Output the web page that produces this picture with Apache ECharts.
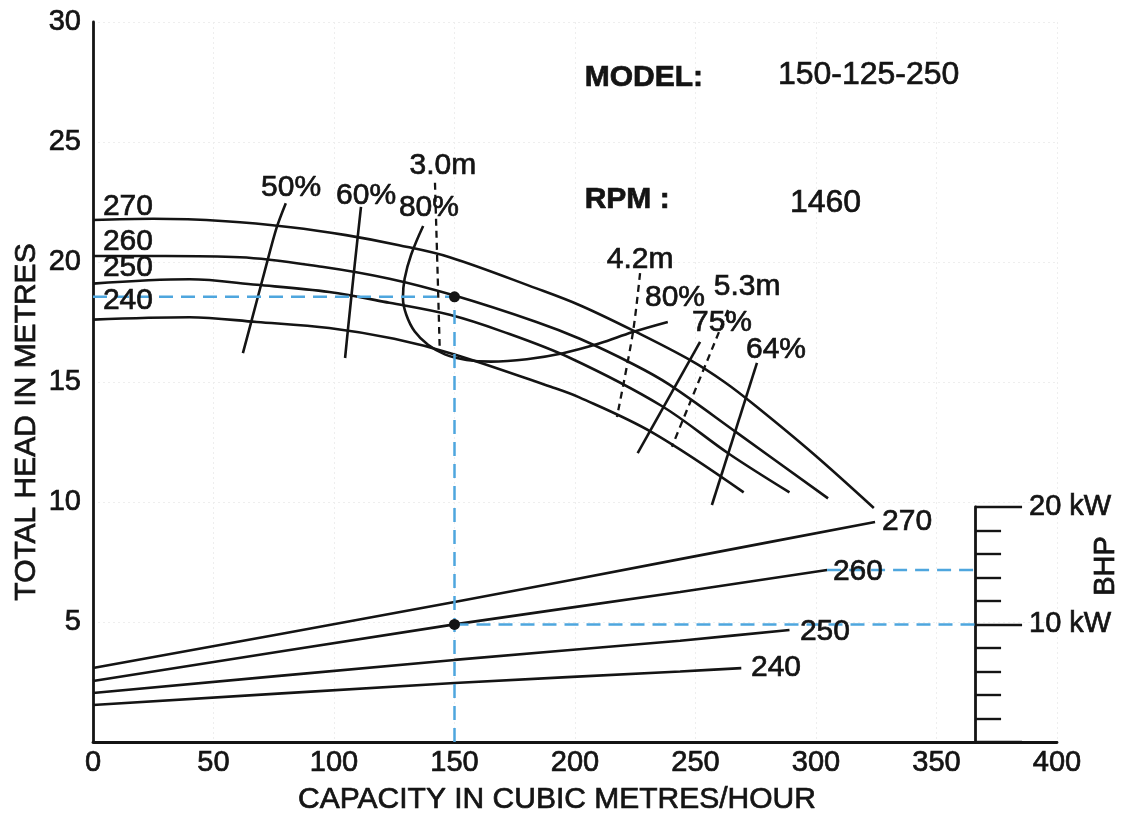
<!DOCTYPE html>
<html>
<head>
<meta charset="utf-8">
<script src="https://cdn.jsdelivr.net/npm/echarts/dist/echarts.min.js"></script>
<style>html,body{margin:0;padding:0;background:#fff}#c{width:1128px;height:815px}</style>
</head>
<body>
<div id="c"></div>
<script>
// ---------------- data (capacity m3/h, head m) ----------------
const xTicks = [0, 50, 100, 150, 200, 250, 300, 350, 400];
const yTicks = [0, 5, 10, 15, 20, 25, 30];
const bhpTicksKW = [10, 20];

// head-capacity curves per impeller diameter
const head270 = [[0,21.75],[25,21.8],[55,21.7],[82,21.45],[105,21.12],[127,20.7],[148,20.2],[184,18.9],[202,18.2],[224,17.15],[248,15.9],[262,15.0],[275,14.0],[299,12.0],[324,9.75]];
const head260 = [[0,20.25],[30,20.25],[61,20.2],[95,19.8],[123,19.3],[150,18.6],[184,17.5],[202,16.8],[224,15.75],[239,14.9],[267,12.9],[305,10.15]];
const head250 = [[0,19.1],[40,19.28],[68,19.05],[98,18.75],[123,18.3],[148,17.8],[170,17.1],[198,16.0],[236,14.0],[264,12.0],[289,10.4]];
const head240 = [[0,17.6],[40,17.7],[68,17.5],[98,17.25],[125,16.8],[150,16.15],[190,14.8],[202,14.35],[232,12.9],[270,10.4]];

// power curves (drawn on head scale; BHP axis: 20 kW = bhpTopHead)
const power270 = [[0,3.08],[150,5.83],[243.6,7.62],[324.5,9.17]];
const power260 = [[0,2.54],[150,4.9],[243.6,6.25],[304.6,7.17]];
const power250 = [[0,2.04],[150,3.42],[243.6,4.22],[289,4.67]];
const power240 = [[0,1.54],[150,2.46],[243.6,2.94],[269,3.08]];

// iso-efficiency lines
const eff50 = [[62.2,16.2],[66.7,17.9],[71.2,19.6],[76.1,21.4],[80,22.45]];
const eff60 = [[104.6,16.0],[105.8,17.2],[108.5,19.8],[111.2,22.3]];
const eff80 = [[137,21.5],[132,20.3],[129.3,19.3],[128.6,18.5],[130,17.8],[133.5,17.1],[139,16.55],[146,16.15],[155,15.92],[165,15.85],[180,15.95],[195,16.2],[210,16.6],[224,17.08],[238.5,17.5]];
const eff75 = [[226,12.04],[251.9,16.67]];
const eff64 = [[256.8,9.875],[275.5,15.8]];

// NPSH-required lines
const npsh30 = [[141.9,23.3],[143,19.5],[143.9,16.25]];
const npsh42 = [[227,19.54],[224,17.04],[217.4,13.54]];
const npsh53 = [[263.5,18.0],[240.2,12.3]];

// duty point
const dutyQ = 150, dutyHead = 18.55, dutyPower = 4.9;
const power260End = [304.6, 7.17];
const bhpAxisQ = 366;
const bhpTopHead = 9.8;   // head-scale value that corresponds to 20 kW
const bhpMaxKW = 20;

// ---------------- annotation anchors (data coords) ----------------
const notes = [
  [14.5, 22.3, '270'], [14.5, 20.83, '260'], [14.5, 19.75, '250'], [14.5, 18.4, '240'],
  [82.2, 23.1, '50%'], [113.3, 22.75, '60%'], [139.4, 22.25, '80%'], [145.2, 24.0, '3.0m'],
  [227, 20.08, '4.2m'], [271.4, 18.96, '5.3m'], [241.5, 18.5, '80%'], [261, 17.46, '75%'], [283.4, 16.33, '64%'],
  [337.8, 9.17, '270'], [317.4, 7.08, '260'], [303.7, 4.58, '250'], [283.4, 3.08, '240']
];
const infoNotes = [
  [204, 27.67, 'MODEL:', 'bold', 30], [284.2, 27.8, '150-125-250', 'normal', 32],
  [204, 22.58, 'RPM :', 'bold', 30], [289.2, 22.46, '1460', 'normal', 32]
];

// ---------------- chart ----------------
const fontFamily = '"Liberation Sans", Arial, Helvetica, sans-serif';
const ink = '#141414';
const blue = '#4ea6de';
const heavy = { textBorderColor: ink, textBorderWidth: 0.7 };
const lineW = 2.6;

function curve(data, extra) {
  return Object.assign({
    type: 'line', data: data, smooth: 0.35, showSymbol: false, symbol: 'none',
    silent: true, xAxisIndex: 0, yAxisIndex: 0, z: 3,
    lineStyle: { color: ink, width: lineW }
  }, extra || {});
}
function dashed(data, color, width, dash) {
  return curve(data, { smooth: false, lineStyle: { color: color, width: width, type: dash } });
}

const series = [];
[head270, head260, head250, head240].forEach(d => series.push(curve(d)));
[power270, power260, power250, power240].forEach(d => series.push(curve(d, { smooth: 0.2 })));
[eff50, eff60, eff75, eff64].forEach(d => series.push(curve(d, { smooth: 0.3 })));
series.push(curve(eff80, { smooth: 0.4 }));
[npsh30, npsh42, npsh53].forEach(d => series.push(curve(d, { smooth: 0.3, lineStyle: { color: ink, width: 2.3, type: [7, 5] } })));

series.push(dashed([[dutyQ, 0], [dutyQ, dutyHead]], blue, 2.5, [14, 8]));
series.push(dashed([[0, dutyHead], [dutyQ, dutyHead]], blue, 2.5, [14, 8]));
series.push(dashed([[dutyQ, dutyPower], [bhpAxisQ, dutyPower]], blue, 2.5, [14, 8]));
series.push(dashed([power260End, [bhpAxisQ, power260End[1]]], blue, 2.5, [14, 8]));

series.push({
  type: 'scatter', silent: true, z: 6, symbolSize: 11,
  itemStyle: { color: ink, opacity: 1 },
  data: [[dutyQ, dutyHead], [dutyQ, dutyPower]]
});

series.push({
  type: 'scatter', silent: true, z: 8, symbol: 'circle', symbolSize: 1,
  itemStyle: { color: 'rgba(255,255,255,0)', opacity: 1 },
  data: notes.map(n => ({
    value: [n[0], n[1]],
    label: Object.assign({ show: true, position: 'inside', formatter: n[2], color: ink, opacity: 1, fontSize: 30, fontFamily: fontFamily }, heavy)
  })).concat(infoNotes.map(n => ({
    value: [n[0], n[1]],
    label: Object.assign({ show: true, position: 'inside', align: 'left', formatter: n[2], color: ink, opacity: 1, fontSize: n[4], fontWeight: n[3], fontFamily: fontFamily }, heavy)
  })))
});

const gridLeft = 93, gridRight = 71, gridTop = 22, gridBottom = 73;

const option = {
  backgroundColor: '#ffffff',
  animation: false,
  grid: [
    { left: gridLeft, right: gridRight, top: gridTop, bottom: gridBottom },
    { left: 976, top: 504, height: 238, width: 60 }
  ],
  xAxis: [
    {
      type: 'value', gridIndex: 0, min: xTicks[0], max: xTicks[xTicks.length - 1], interval: xTicks[1] - xTicks[0],
      axisLine: { show: true, lineStyle: { color: ink, width: 2.8 } },
      axisTick: { show: false },
      axisLabel: Object.assign({ color: ink, fontSize: 29, fontFamily: fontFamily, margin: 6 }, heavy),
      splitLine: { show: true, lineStyle: { color: '#eeeeee', width: 1, type: [2, 3] } }
    },
    { type: 'value', gridIndex: 1, show: false, min: 0, max: 1 }
  ],
  yAxis: [
    {
      type: 'value', gridIndex: 0, min: yTicks[0], max: yTicks[yTicks.length - 1], interval: yTicks[1] - yTicks[0],
      axisLine: { show: true, lineStyle: { color: ink, width: 2.8 } },
      axisTick: { show: false },
      axisLabel: Object.assign({ color: ink, fontSize: 29, fontFamily: fontFamily, margin: 12, formatter: v => (v === 0 ? '' : String(v)) }, heavy),
      splitLine: { show: true, lineStyle: { color: '#eeeeee', width: 1, type: [2, 3] } }
    },
    {
      type: 'value', gridIndex: 1, min: 0, max: bhpMaxKW, interval: bhpTicksKW[0],
      position: 'left',
      axisLine: { show: true, lineStyle: { color: ink, width: 2.8 } },
      axisTick: { show: true, inside: true, length: 47, lineStyle: { color: ink, width: 2.4 } },
      minorTick: { show: true, splitNumber: 5, length: 26, lineStyle: { color: ink, width: 2.4 } },
      axisLabel: Object.assign({ inside: true, margin: 54, color: ink, fontSize: 29, fontFamily: fontFamily,
        formatter: v => (bhpTicksKW.indexOf(v) >= 0 ? v + ' kW' : '') }, heavy),
      splitLine: { show: false }
    }
  ],
  graphic: [
    { type: 'text', x: 557, y: 800, silent: true,
      style: { text: 'CAPACITY IN CUBIC METRES/HOUR', fill: ink, stroke: ink, lineWidth: 0.7, font: '30px ' + fontFamily, align: 'center', verticalAlign: 'middle' } },
    { type: 'text', x: 27, y: 422, rotation: Math.PI / 2, silent: true,
      style: { text: 'TOTAL HEAD IN METRES', fill: ink, stroke: ink, lineWidth: 0.7, font: '30px ' + fontFamily, align: 'center', verticalAlign: 'middle' } },
    { type: 'text', x: 1106, y: 566, rotation: Math.PI / 2, silent: true,
      style: { text: 'BHP', fill: ink, stroke: ink, lineWidth: 0.7, font: '29px ' + fontFamily, align: 'center', verticalAlign: 'middle' } }
  ],
  series: series
};

const chart = echarts.init(document.getElementById('c'), null, { renderer: 'canvas' });
chart.setOption(option);
// place BHP axis on the main scale
const pBase = chart.convertToPixel({ gridIndex: 0 }, [bhpAxisQ, 0]);
const pTop = chart.convertToPixel({ gridIndex: 0 }, [bhpAxisQ, bhpTopHead]);
chart.setOption({ grid: [{}, { left: pBase[0], top: pTop[1], height: pBase[1] - pTop[1], width: 60 }] });
</script>
</body>
</html>
